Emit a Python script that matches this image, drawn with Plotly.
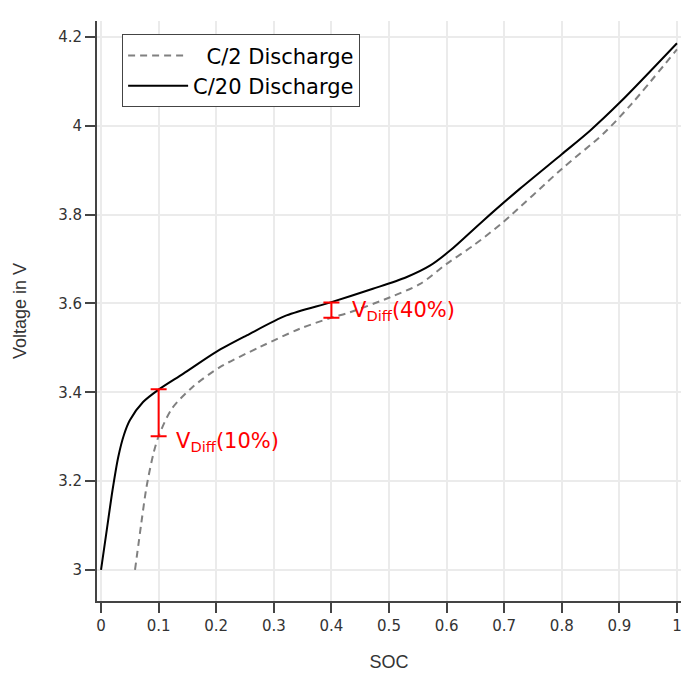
import plotly.graph_objects as go

# C/20 discharge (solid black)
soc_c20 = [0.0, 0.01, 0.02, 0.03, 0.04, 0.05, 0.073, 0.1, 0.143, 0.2, 0.253, 0.322, 0.4,
           0.472, 0.53, 0.571, 0.606, 0.664, 0.727, 0.8, 0.849, 0.902, 1.0]
v_c20 = [3.0, 3.09, 3.18, 3.255, 3.305, 3.337, 3.378, 3.406, 3.442, 3.491, 3.528, 3.573, 3.603,
         3.633, 3.659, 3.685, 3.719, 3.787, 3.858, 3.936, 3.989, 4.054, 4.186]

# C/2 discharge (dashed gray)
soc_c2 = [0.059, 0.070, 0.079, 0.091, 0.1, 0.123, 0.16, 0.207, 0.276, 0.345, 0.4, 0.432,
          0.502, 0.554, 0.6, 0.646, 0.698, 0.8, 0.872, 0.921, 1.0]
v_c2 = [3.0, 3.106, 3.187, 3.262, 3.301, 3.363, 3.413, 3.457, 3.502, 3.543, 3.568, 3.580,
        3.614, 3.644, 3.689, 3.730, 3.783, 3.903, 3.982, 4.049, 4.172]

# Voltage difference markers
diff_soc = [0.1, 0.4]
diff_mid = [3.354, 3.585]
diff_half = [0.053, 0.017]
diff_labels = ["V<sub>Diff</sub>(10%)", "V<sub>Diff</sub>(40%)"]
label_pos = [(0.127, 3.288), (0.432, 3.584)]

x_ticks = [0, 0.1, 0.2, 0.3, 0.4, 0.5, 0.6, 0.7, 0.8, 0.9, 1]
y_ticks = [3, 3.2, 3.4, 3.6, 3.8, 4, 4.2]

fig = go.Figure()
fig.add_trace(go.Scatter(x=soc_c2, y=v_c2, mode="lines", name="  C/2 Discharge",
                         line=dict(color="#808080", width=2, dash="7px,5px",
                                   shape="spline", smoothing=0.8)))
fig.add_trace(go.Scatter(x=soc_c20, y=v_c20, mode="lines", name="C/20 Discharge",
                         line=dict(color="black", width=2, shape="spline", smoothing=0.8)))
fig.add_trace(go.Scatter(x=diff_soc, y=diff_mid, mode="markers", showlegend=False,
                         marker=dict(size=1, color="rgba(0,0,0,0)"),
                         error_y=dict(type="data", array=diff_half, symmetric=True,
                                      color="red", thickness=2, width=8)))

for (ax, ay), txt in zip(label_pos, diff_labels):
    fig.add_annotation(x=ax, y=ay, text=txt, showarrow=False, xanchor="left",
                       yanchor="middle", font=dict(family="DejaVu Sans", size=21, color="red"))

axis_common = dict(showline=True, linecolor="#444", linewidth=2, ticks="outside",
                   ticklen=10, tickwidth=2, tickcolor="#444", showgrid=True,
                   gridcolor="#ebebeb", gridwidth=2, zeroline=False,
                   ticklabeloverflow="allow",
                   tickfont=dict(family="DejaVu Sans", size=15, color="#333"))

fig.update_xaxes(range=[-0.007, 1.007], tickvals=x_ticks,
                 ticktext=[str(t) for t in x_ticks],
                 title=dict(text="SOC", font=dict(family="Liberation Sans", size=18, color="#333"),
                            standoff=21),
                 **axis_common)
fig.update_yaxes(range=[2.93, 4.236], tickvals=y_ticks,
                 ticktext=["3", "3.2", "3.4", "3.6", "3.8", "4", "4.2"],
                 title=dict(text="Voltage in V", font=dict(family="Liberation Sans", size=18, color="#333"),
                            standoff=27),
                 **axis_common)

fig.update_layout(
    width=681, height=681,
    margin=dict(l=97, r=0, t=21, b=80),
    paper_bgcolor="white", plot_bgcolor="white",
    legend=dict(x=0.043, y=0.977, xanchor="left", yanchor="top",
                bgcolor="white", bordercolor="#444", borderwidth=1,
                font=dict(family="DejaVu Sans", size=21, color="black"),
                itemwidth=60, tracegroupgap=0),
)

fig.write_html("out.html")
